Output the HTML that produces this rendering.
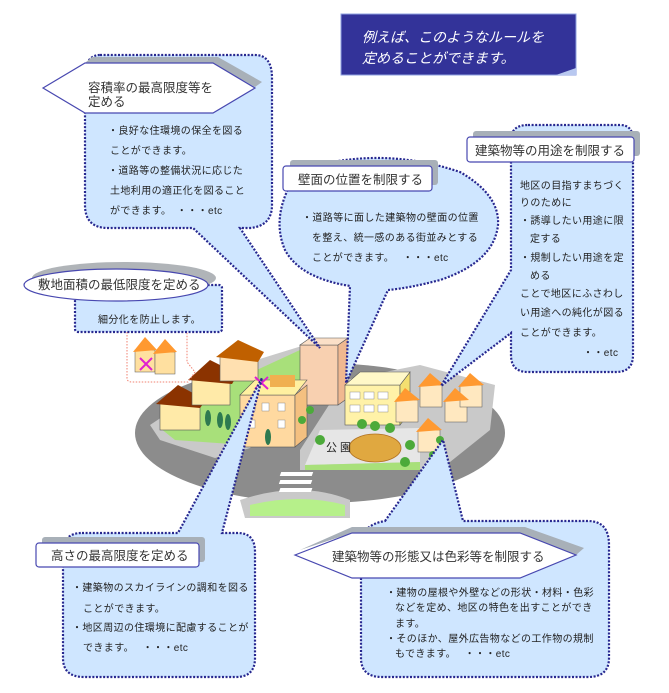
<!DOCTYPE html>
<html><head><meta charset="utf-8"><style>
html,body{margin:0;padding:0;background:#fff;}
svg{display:block;}
text{font-family:"Liberation Sans","Noto Sans CJK JP",sans-serif;fill:#222;}
.b{fill:#cfe6ff;stroke:#27278f;stroke-width:2.2;stroke-dasharray:2 1.6;}
.t{font-size:10px;letter-spacing:0.4px;}
.h{font-size:12.5px;fill:#333;}
</style></head><body>
<svg width="669" height="693" viewBox="0 0 669 693" xmlns="http://www.w3.org/2000/svg">
<!-- Title -->
<rect x="341" y="14" width="235" height="61" fill="#333399" stroke="#8fa0e0" stroke-width="1"/>
<path d="M556,75 L576,68 L576,75 Z" fill="#b8c8f0"/>
<text x="362" y="42" style="font-size:14px;font-style:italic;fill:#fff;">例えば、このようなルールを</text>
<text x="362" y="63" style="font-size:14px;font-style:italic;fill:#fff;">定めることができます。</text>

<!-- City -->
<ellipse cx="320" cy="433" rx="185" ry="70" fill="#8c8c8c"/>
<path d="M150,425 L240,365 L305,345 L345,345 L300,400 L250,448 L215,458 L160,440 Z" fill="#c9c9c9"/>
<path d="M160,428 L235,380 L300,350 L300,385 L245,445 L175,440 Z" fill="#a8e07a"/>
<path d="M300,450 L345,380 L420,365 L495,385 L490,430 L440,470 L300,470 Z" fill="#c9c9c9"/>
<path d="M305,465 L320,430 L420,428 L420,462 Z" fill="#e6e6e6"/>
<path d="M305,465 L420,462 L420,470 L305,470Z" fill="#a8e07a"/>
<path d="M240,500 Q300,480 350,500 L350,518 L245,518 Z" fill="#c9c9c9"/>
<path d="M250,505 Q300,493 345,505 L345,516 L250,516 Z" fill="#b6f08a"/>
<g fill="#fff"><rect x="283" y="472" width="32" height="4" transform="skewX(-20) translate(170,0)"/><rect x="283" y="480" width="32" height="4" transform="skewX(-20) translate(172,0)"/><rect x="283" y="488" width="32" height="4" transform="skewX(-20) translate(175,0)"/></g>
<!-- houses left -->
<rect x="160" y="402" width="40" height="28" fill="#ffeaa8" stroke="#555" stroke-width=".6"/>
<path d="M156,404 L178,385 L206,400 L200,408 Z" fill="#8b3300"/>
<rect x="192" y="377" width="38" height="28" fill="#ffeaa8" stroke="#555" stroke-width=".6"/>
<path d="M188,380 L210,360 L238,374 L232,384 Z" fill="#8b3300"/>
<rect x="220" y="355" width="38" height="26" fill="#ffe0b0" stroke="#555" stroke-width=".6"/>
<path d="M216,357 L238,340 L264,352 L258,362 Z" fill="#c06000"/>
<!-- middle buildings -->
<rect x="300" y="345" width="38" height="60" fill="#f8d0b0" stroke="#555" stroke-width=".6"/>
<path d="M338,345 L348,338 L348,398 L338,405Z" fill="#f0b890" stroke="#555" stroke-width=".6"/>
<path d="M300,345 L310,338 L348,338 L338,345Z" fill="#fbe0c8" stroke="#555" stroke-width=".6"/>
<rect x="240" y="395" width="55" height="52" fill="#ffd9a0" stroke="#555" stroke-width=".6"/>
<path d="M295,395 L307,385 L307,437 L295,447Z" fill="#f4c080" stroke="#555" stroke-width=".6"/>
<path d="M240,395 L255,380 L307,380 L295,395 Z" fill="#fff0a0" stroke="#555" stroke-width=".6"/>
<rect x="270" y="375" width="25" height="12" fill="#f0b050"/>
<g fill="#fff" stroke="#777" stroke-width=".4"><rect x="248" y="403" width="7" height="8"/><rect x="262" y="403" width="7" height="8"/><rect x="278" y="403" width="7" height="8"/><rect x="248" y="420" width="7" height="8"/><rect x="278" y="420" width="7" height="8"/></g>
<!-- yellow building -->
<rect x="345" y="385" width="55" height="40" fill="#fff2a8" stroke="#555" stroke-width=".6"/>
<path d="M400,385 L410,372 L410,412 L400,425Z" fill="#f4e070" stroke="#555" stroke-width=".6"/>
<path d="M345,385 L360,372 L410,372 L400,385 Z" fill="#fff8c8" stroke="#555" stroke-width=".6"/>
<g fill="#fff" stroke="#777" stroke-width=".4"><rect x="350" y="392" width="10" height="7"/><rect x="364" y="392" width="10" height="7"/><rect x="378" y="392" width="10" height="7"/><rect x="350" y="405" width="10" height="7"/><rect x="364" y="405" width="10" height="7"/><rect x="378" y="405" width="10" height="7"/></g>
<!-- orange houses -->
<g fill="#ffe8c0" stroke="#555" stroke-width=".5">
<rect x="396" y="400" width="22" height="22"/><rect x="420" y="385" width="22" height="22"/><rect x="445" y="400" width="22" height="22"/><rect x="460" y="385" width="22" height="22"/><rect x="418" y="430" width="22" height="22"/>
</g>
<g fill="#ff9930">
<path d="M394,402 L405,388 L420,400Z"/><path d="M418,387 L430,373 L444,385Z"/><path d="M443,402 L455,388 L469,400Z"/><path d="M458,387 L470,373 L484,385Z"/><path d="M416,432 L428,418 L442,430Z"/>
</g>
<!-- trees -->
<g fill="#4caa3a"><circle cx="362" cy="424" r="5"/><circle cx="375" cy="426" r="5"/><circle cx="390" cy="428" r="5"/><circle cx="320" cy="440" r="5"/><circle cx="410" cy="445" r="5"/><circle cx="405" cy="462" r="5"/><circle cx="302" cy="420" r="4"/><circle cx="310" cy="410" r="4"/><circle cx="433" cy="455" r="4"/><circle cx="440" cy="440" r="4"/></g>
<g fill="#2e7a50"><ellipse cx="208" cy="418" rx="3" ry="8"/><ellipse cx="220" cy="420" rx="3" ry="8"/><ellipse cx="228" cy="422" rx="3" ry="8"/><ellipse cx="268" cy="437" rx="3" ry="8"/></g>
<ellipse cx="375" cy="448" rx="26" ry="14" fill="#e0a840" stroke="#b07020" stroke-width=".8"/>
<text x="326" y="451" style="font-size:11px;">公 園</text>
<!-- red callout -->
<path d="M127,332 L127,378 Q127,382 132,382 L188,382 L195,372 L187,362 L187,332" fill="none" stroke="#f08070" stroke-width="1" stroke-dasharray="1.5 1.5"/>
<rect x="135" y="350" width="20" height="22" fill="#ffe0a0" stroke="#555" stroke-width=".5"/>
<rect x="155" y="352" width="20" height="22" fill="#ffe0a0" stroke="#555" stroke-width=".5"/>
<path d="M133,352 L145,337 L157,350Z M153,354 L165,339 L177,352Z" fill="#ff9930"/>
<path d="M140,358 L152,370 M152,358 L140,370 M255,377 L268,389 M268,377 L255,389" stroke="#e020d0" stroke-width="2"/>

<!-- Bubble 容積率 -->
<path class="b" d="M100,55 H255 Q272,55 272,78 V205 Q272,226 250,228 L240,228 L320,348 L193,228 H108 Q85,228 85,205 V113 L85,70 Q88,55 100,55 Z"/>
<polygon points="92,57 218,57 262,82 255,87 213,63 85,63" fill="#a8b0b8"/>
<polygon points="43,88 85,63 213,63 255,88 213,113 85,113" fill="#fff" stroke="#4848b0" stroke-width="1.2"/>
<text class="h" x="88" y="92">容積率の最高限度等を</text>
<text class="h" x="88" y="106">定める</text>
<text class="t" x="108" y="134">・良好な住環境の保全を図る</text>
<text class="t" x="110" y="154">ことができます。</text>
<text class="t" x="108" y="174">・道路等の整備状況に応じた</text>
<text class="t" x="110" y="194">土地利用の適正化を図ること</text>
<text class="t" x="110" y="214">ができます。　・・・etc</text>

<!-- Bubble 敷地 -->
<rect class="b" x="75" y="285" width="147" height="47" rx="3"/>
<ellipse cx="124" cy="278" rx="92" ry="16" fill="#b0b4b8"/>
<ellipse cx="116" cy="285" rx="92" ry="16" fill="#fff" stroke="#4848b0" stroke-width="1.2"/>
<text x="38" y="289" style="font-size:12.5px;fill:#333;">敷地面積の最低限度を定める</text>
<text class="t" x="98" y="323">細分化を防止します。</text>

<!-- Bubble 壁面 -->
<path class="b" d="M300,170 Q380,145 460,172 Q500,195 498,225 Q494,262 440,280 Q410,288 388,290 L346,383 L350,286 Q300,278 285,250 Q272,220 290,185 Q294,176 300,170 Z"/>
<rect x="290" y="160" width="148" height="25" rx="3" fill="#a8b0b8"/>
<rect x="283" y="166" width="149" height="25" rx="3" fill="#fff" stroke="#4848b0" stroke-width="1.2"/>
<text class="h" x="298" y="184">壁面の位置を制限する</text>
<text class="t" x="302" y="221">・道路等に面した建築物の壁面の位置</text>
<text class="t" x="312" y="241">を整え、統一感のある街並みとする</text>
<text class="t" x="312" y="261">ことができます。　 ・・・etc</text>

<!-- Bubble 用途 -->
<path class="b" d="M528,125 H620 Q633,125 633,140 V355 Q633,372 616,372 H528 Q511,372 511,355 V333 L441,386 L511,270 V140 Q511,125 528,125 Z"/>
<rect x="473" y="131" width="167" height="25" rx="3" fill="#a8b0b8"/>
<rect x="467" y="137" width="167" height="25" rx="3" fill="#fff" stroke="#4848b0" stroke-width="1.2"/>
<text class="h" x="475" y="155">建築物等の用途を制限する</text>
<text class="t" x="520" y="189">地区の目指すまちづく</text>
<text class="t" x="520" y="206">りのために</text>
<text class="t" x="520" y="224">・誘導したい用途に限</text>
<text class="t" x="530" y="242">定する</text>
<text class="t" x="520" y="261">・規制したい用途を定</text>
<text class="t" x="530" y="279">める</text>
<text class="t" x="520" y="297">ことで地区にふさわし</text>
<text class="t" x="520" y="316">い用途への純化が図る</text>
<text class="t" x="520" y="336">ことができます。</text>
<text class="t" x="583" y="356">・・etc</text>

<!-- Bubble 高さ -->
<path class="b" d="M82,533 H178 L262,378 L222,533 H238 Q255,533 255,552 V658 Q255,677 236,677 H84 Q63,677 63,658 V552 Q63,533 82,533 Z"/>
<rect x="42" y="537" width="163" height="25" rx="3" fill="#a8b0b8"/>
<rect x="36" y="543" width="163" height="24" rx="3" fill="#fff" stroke="#4848b0" stroke-width="1.2"/>
<text class="h" x="51" y="560">高さの最高限度を定める</text>
<text class="t" x="72" y="591">・建築物のスカイラインの調和を図る</text>
<text class="t" x="83" y="612">ことができます。</text>
<text class="t" x="72" y="631">・地区周辺の住環境に配慮することが</text>
<text class="t" x="83" y="651">できます。　 ・・・etc</text>

<!-- Bubble 形態 -->
<path class="b" d="M385,521 L443,440 L463,521 H588 Q609,521 609,545 V658 Q609,677 588,677 H382 Q361,677 361,658 V545 Q361,525 385,521 Z"/>
<polygon points="300,550 352,527 525,527 584,548 576,555 520,533 352,533" fill="#a8b0b8"/>
<polygon points="295,555 352,533 520,533 576,555 520,578 352,578" fill="#fff" stroke="#4848b0" stroke-width="1.2"/>
<text class="h" x="332" y="561">建築物等の形態又は色彩等を制限する</text>
<text class="t" x="386" y="596">・建物の屋根や外壁などの形状・材料・色彩</text>
<text class="t" x="395" y="611">などを定め、地区の特色を出すことができ</text>
<text class="t" x="395" y="627">ます。</text>
<text class="t" x="386" y="642">・そのほか、屋外広告物などの工作物の規制</text>
<text class="t" x="395" y="657">もできます。　 ・・・etc</text>
</svg>
</body></html>
